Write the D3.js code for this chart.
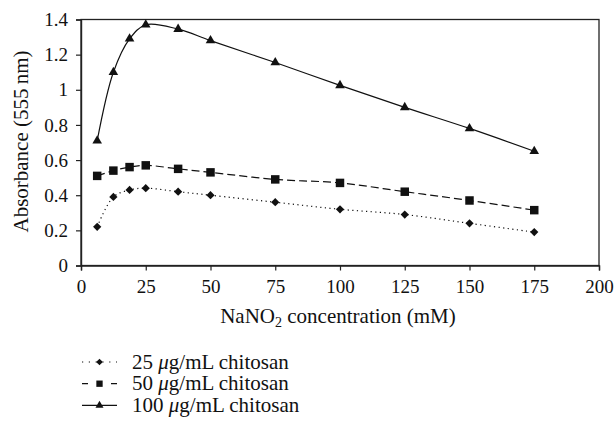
<!DOCTYPE html>
<html>
<head>
<meta charset="utf-8">
<script src="https://cdn.jsdelivr.net/npm/d3@7"></script>
<style>
  body { margin: 0; background: #fff; }
</style>
</head>
<body>
<div id="graph"></div>
<script>
const concentrations = [6.25, 12.5, 18.75, 25, 37.5, 50, 75, 100, 125, 150, 175];
const chitosan25 = [0.22, 0.39, 0.43, 0.44, 0.42, 0.40, 0.36, 0.32, 0.29, 0.24, 0.19];
const chitosan50 = [0.51, 0.54, 0.56, 0.57, 0.55, 0.53, 0.49, 0.47, 0.42, 0.37, 0.315];
const chitosan100 = [0.71, 1.10, 1.29, 1.37, 1.345, 1.28, 1.155, 1.025, 0.90, 0.78, 0.65];
const xTicks = [0, 25, 50, 75, 100, 125, 150, 175, 200];
const yTicks = [0, 0.2, 0.4, 0.6, 0.8, 1, 1.2, 1.4];
const seriesNames = ["25 ", "50 ", "100 "];

const FONT = "'Liberation Serif', 'Times New Roman', serif";

function renderChart() {
    const width = 616;
    const height = 425;
    const margin = {top: 19.5, bottom: 159.5, left: 81, right: 17};

    const svg = d3.select("#graph")
        .append("svg")
        .attr("width", width)
        .attr("height", height)
        .style("font-family", FONT);

    const x = d3.scaleLinear()
        .domain([0, 200])
        .range([margin.left, width - margin.right]);

    const y = d3.scaleLinear()
        .domain([0, 1.4])
        .range([height - margin.bottom, margin.top]);

    // frame
    svg.append("rect")
        .attr("x", x(0)).attr("y", y(1.4))
        .attr("width", x(200) - x(0)).attr("height", y(0) - y(1.4))
        .attr("fill", "none").attr("stroke", "#222").attr("stroke-width", 1.3);

    function xAxis(g) {
        g.attr("transform", `translate(0, ${y(0)})`)
         .call(d3.axisBottom(x).tickValues(xTicks).tickSize(5).tickPadding(9).tickFormat(d3.format("d")));
        g.select(".domain").attr("stroke", "#222").attr("stroke-width", 1.4);
        g.selectAll(".tick line").attr("stroke", "#222").attr("stroke-width", 1.2);
    }

    function yAxis(g) {
        g.attr("transform", `translate(${x(0)}, 0)`)
         .call(d3.axisLeft(y).tickValues(yTicks).tickSize(5).tickPadding(8).tickFormat(d => d === 0 || d === 1 ? d : d.toFixed(1)));
        g.select(".domain").attr("stroke", "#222").attr("stroke-width", 1.4);
        g.selectAll(".tick line").attr("stroke", "#222").attr("stroke-width", 1.2);
    }

    svg.append("g").call(xAxis);
    svg.append("g").call(yAxis);
    svg.selectAll(".tick text")
        .style("font-family", FONT)
        .style("font-size", "19px")
        .attr("fill", "#111");

    // axis titles
    const xt = svg.append("text")
        .attr("x", (x(0) + x(200)) / 2 - 2)
        .attr("y", 323)
        .attr("text-anchor", "middle")
        .style("font-size", "21px")
        .attr("fill", "#111");
    xt.append("tspan").text("NaNO");
    xt.append("tspan").style("font-size", "14px").attr("dy", 4).text("2");
    xt.append("tspan").attr("dy", -4).text(" concentration (mM)");

    svg.append("text")
        .attr("transform", `translate(28, ${(y(0) + y(1.4)) / 2 - 1}) rotate(-90)`)
        .attr("text-anchor", "middle")
        .style("font-size", "21px")
        .attr("fill", "#111")
        .text("Absorbance (555\u2009nm)");

    const series = [
        {values: chitosan25, dash: "1.2,3.4", legendDash: "1.2,5.6", symbol: d3.symbolSquare, size: 34, rotate: 45, legendSize: 22},
        {values: chitosan50, dash: "8,4", legendDash: "6,23", symbol: d3.symbolSquare, size: 72, rotate: 0, legendSize: 40},
        {values: chitosan100, dash: null, legendDash: null, symbol: d3.symbolTriangle, size: 40, rotate: 0, legendSize: 28}
    ];

    const line = d3.line()
        .x((d, i) => x(concentrations[i]))
        .y(d => y(d))
        .curve(d3.curveCatmullRom.alpha(0.5));

    series.forEach(s => {
        svg.append("path")
            .datum(s.values)
            .attr("d", line)
            .attr("fill", "none")
            .attr("stroke", "#111")
            .attr("stroke-width", 1.2)
            .attr("stroke-dasharray", s.dash);

        svg.selectAll(null)
            .data(s.values)
            .join("path")
            .attr("transform", (d, i) => `translate(${x(concentrations[i])}, ${y(d)}) rotate(${s.rotate})`)
            .attr("d", d3.symbol(s.symbol, s.size))
            .attr("fill", "#111");
    });

    // legend
    const legend = svg.append("g");
    series.forEach((s, i) => {
        const ly = 362 + i * 21.7;
        legend.append("line")
            .attr("x1", 82).attr("x2", 117)
            .attr("y1", ly).attr("y2", ly)
            .attr("stroke", "#111").attr("stroke-width", 1.2)
            .attr("stroke-dasharray", s.legendDash);
        legend.append("path")
            .attr("transform", `translate(99.5, ${ly}) rotate(${s.rotate})`)
            .attr("d", d3.symbol(s.symbol, s.legendSize))
            .attr("fill", "#111");
        const t = legend.append("text")
            .attr("x", 132).attr("y", ly + 6.5)
            .style("font-size", "21px")
            .attr("fill", "#111");
        t.append("tspan").text(seriesNames[i]);
        t.append("tspan").style("font-style", "italic").text("\u03bc");
        t.append("tspan").text("g/mL chitosan");
    });
}

renderChart();
</script>
</body>
</html>
